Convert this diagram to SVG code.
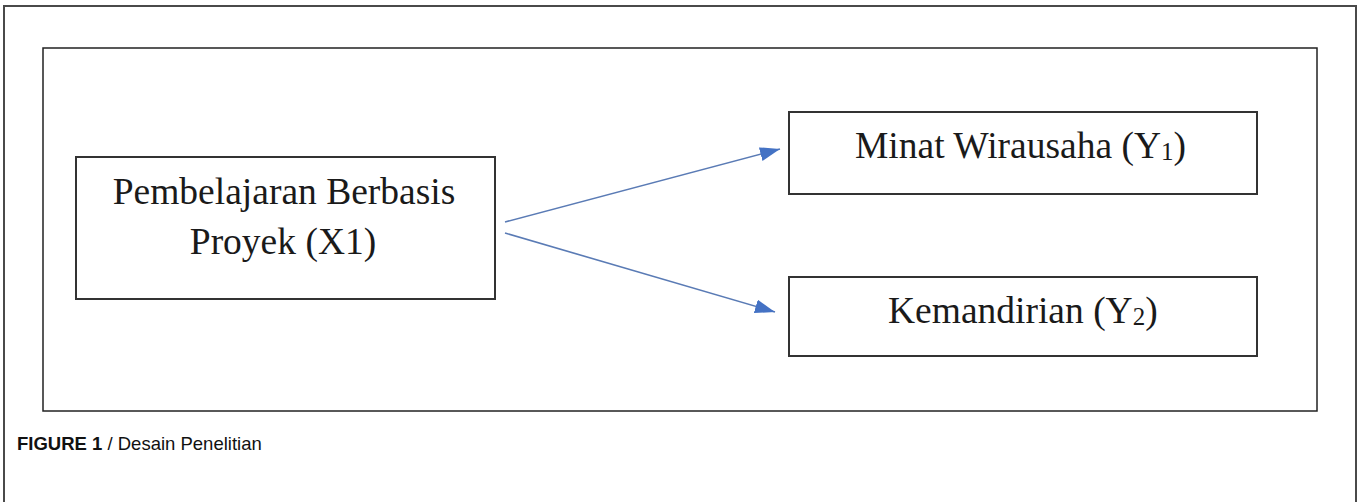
<svg xmlns="http://www.w3.org/2000/svg" width="1360" height="502" viewBox="0 0 1360 502">
  <style>
    .frame { fill: none; stroke: #4a4a4a; stroke-width: 2; }
    .inner { fill: none; stroke: #222; stroke-width: 1.5; }
    .box { fill: #fff; stroke: #333; stroke-width: 2; }
    .lbl { font-family: "Liberation Serif", "Times New Roman", serif; font-size: 37.5px; fill: #1a1a1a; }
    .conn { stroke: #5a7bb5; stroke-width: 1.6; fill: none; }
    .cap { font-family: "Liberation Sans", Arial, sans-serif; font-size: 18.5px; fill: #111; }
  </style>
  <defs>
    <marker id="arr" viewBox="0 0 20 14" refX="20" refY="7" markerWidth="20" markerHeight="14" markerUnits="userSpaceOnUse" orient="auto">
      <path d="M0,0 L20,7 L0,14 z" fill="#4472c4"/>
    </marker>
  </defs>
  <rect width="1360" height="502" fill="#fff"/>
  <path class="frame" d="M4,510 V6 H1356 V510"/>
  <rect class="inner" x="43" y="48" width="1274" height="363"/>

  <g id="node-x1">
    <rect class="box" x="76" y="157" width="419" height="142"/>
    <text class="lbl" x="284" y="204" text-anchor="middle">Pembelajaran Berbasis</text>
    <text class="lbl" x="283" y="254" text-anchor="middle">Proyek (X1)</text>
  </g>
  <g id="node-y1">
    <rect class="box" x="789" y="112" width="468" height="82"/>
    <text class="lbl" x="855" y="158">Minat Wirausaha (Y<tspan font-size="25" dy="2">1</tspan><tspan dy="-2">)</tspan></text>
  </g>
  <g id="node-y2">
    <rect class="box" x="789" y="277" width="468" height="79"/>
    <text class="lbl" x="888" y="323">Kemandirian (Y<tspan font-size="25" dy="2">2</tspan><tspan dy="-2">)</tspan></text>
  </g>
  <g id="connectors">
    <line class="conn" x1="505" y1="222" x2="780" y2="149" marker-end="url(#arr)"/>
    <line class="conn" x1="505" y1="233" x2="775" y2="312" marker-end="url(#arr)"/>
  </g>
  <text class="cap" x="17" y="450"><tspan font-weight="bold">FIGURE 1</tspan> / Desain Penelitian</text>
</svg>
